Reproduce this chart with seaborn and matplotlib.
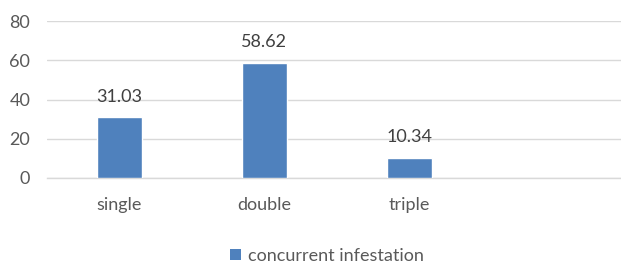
import matplotlib
matplotlib.use("Agg")
import matplotlib.pyplot as plt
import seaborn as sns
import pandas as pd
from matplotlib.patches import Patch

categories = ["single", "double", "triple"]
values = [31.03, 58.62, 10.34]
series_name = "concurrent infestation"
y_ticks = [0, 20, 40, 60, 80]

sns.set_theme(style="white")
plt.rcParams['font.family'] = ['Lato', 'DejaVu Sans']

df = pd.DataFrame({"category": categories, "value": values})

fig = plt.figure(figsize=(6.21, 2.65), dpi=100)
ax = fig.add_axes([47/621, (265-178)/265, (621-47)/621, (178-21)/265])

bar_color = "#4F81BD"
sns.barplot(data=df, x="category", y="value", color=bar_color, width=0.31,
            saturation=1, ax=ax, zorder=3)

ax.set_xlim(-0.5, 3.46)
ax.set_ylim(0, 80)
ax.set_yticks(y_ticks)
ax.set_yticklabels([str(t) for t in y_ticks])
ax.yaxis.grid(True, color="#D9D9D9", linewidth=1.0, zorder=0)
ax.set_axisbelow(True)
for s in ["left", "right", "top"]:
    ax.spines[s].set_visible(False)
ax.spines["bottom"].set_color("#D9D9D9")
ax.spines["bottom"].set_linewidth(1.0)
ax.set_xlabel("")
ax.set_ylabel("")
ax.tick_params(axis="y", length=0, pad=12, labelsize=13, labelcolor="#595959")
ax.tick_params(axis="x", length=0, pad=14, labelsize=13, labelcolor="#595959")

for i, v in enumerate(values):
    ax.annotate(f"{v:.2f}", xy=(i, v), xytext=(0, 9), textcoords="offset points",
                ha="center", va="bottom", fontsize=13, color="#404040")

handle = Patch(facecolor=bar_color, edgecolor="none")
fig.legend([handle], [series_name], loc="center", bbox_to_anchor=(327/621, 1 - 256/265),
           frameon=False, fontsize=13, labelcolor="#595959", handlelength=0.6,
           handleheight=0.6, handletextpad=0.4, borderaxespad=0)

fig.savefig("out.png", dpi=100)
